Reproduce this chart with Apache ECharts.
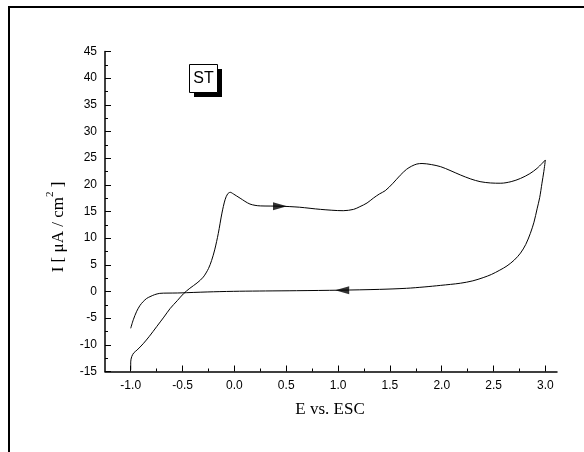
<!DOCTYPE html>
<html>
<head>
<meta charset="utf-8">
<script src="https://cdn.jsdelivr.net/npm/echarts@6/dist/echarts.min.js"></script>
<style>
html,body{margin:0;padding:0;background:#fff;}
#chart{width:584px;height:452px;}
</style>
</head>
<body>
<div id="chart"></div>
<script>
// Forward (anodic) scan
const forwardE = [-1.0,-1.0,-0.99,-0.97,-0.94,-0.88,-0.82,-0.75,-0.68,-0.62,-0.55,-0.49,-0.43,-0.36,-0.30,-0.25,-0.22,-0.19,-0.155,-0.12,-0.09,-0.065,-0.04,-0.01,0.055,0.15,0.25,0.44,0.63,0.83,1.05,1.15,1.21,1.28,1.34,1.40,1.455,1.53,1.60,1.66,1.71,1.76,1.81,1.90,1.99,2.08,2.18,2.28,2.37,2.47,2.57,2.67,2.76,2.85,2.92,3.0];
const forwardI = [-14.7,-13.2,-12.2,-11.5,-11.0,-9.8,-8.4,-6.6,-4.8,-3.2,-1.7,-0.4,0.6,1.6,2.7,4.3,5.8,7.8,10.9,14.7,17.2,18.3,18.6,18.3,17.5,16.4,16.05,16.0,15.8,15.4,15.15,15.4,15.9,16.6,17.5,18.3,18.9,20.3,21.8,22.9,23.5,23.9,24.0,23.8,23.4,22.7,21.85,21.1,20.6,20.35,20.3,20.6,21.2,22.1,23.1,24.66];
// Reverse (cathodic) scan
const reverseE = [3.0,2.985,2.967,2.945,2.92,2.89,2.855,2.81,2.76,2.70,2.63,2.56,2.48,2.40,2.30,2.18,1.99,1.83,1.66,1.40,1.02,0.60,0.30,0.05,-0.20,-0.46,-0.55,-0.65,-0.72,-0.77,-0.814,-0.846,-0.88,-0.91,-0.942,-0.975,-1.0];
const reverseI = [24.66,22.5,20.3,17.6,15.5,13.0,10.9,8.8,7.2,5.9,4.8,4.0,3.2,2.6,2.0,1.55,1.15,0.85,0.6,0.4,0.25,0.15,0.1,0.05,-0.05,-0.22,-0.28,-0.3,-0.35,-0.6,-0.97,-1.3,-1.9,-2.6,-3.7,-5.3,-6.9];
// Direction arrows
const arrowForward = [0.44, 16.0];
const arrowReverse = [1.04, 0.25];
// Tick values
const xMajorTicks = [-1.0,-0.5,0.0,0.5,1.0,1.5,2.0,2.5,3.0];
const xMinorTicks = [-0.75,-0.25,0.25,0.75,1.25,1.75,2.25,2.75];

const zip = (a,b) => a.map((v,i) => [v, b[i]]);

const chart = echarts.init(document.getElementById('chart'), null, {renderer:'canvas'});
const axisColor = '#000';
const labelFont = {fontFamily:'"Liberation Sans", Arial, sans-serif', fontSize:12, color:'#000'};

chart.setOption({
  animation:false,
  backgroundColor:'#fff',
  grid:{left:105, right:27, top:51.5, bottom:80.5, containLabel:false, outerBoundsMode:'none'},
  xAxis:[{
    type:'value', min:-1.248, max:3.112, position:'bottom',
    axisLine:{show:true, onZero:false, lineStyle:{color:axisColor, width:1.5}},
    axisTick:{show:true, inside:true, length:6, customValues:xMajorTicks, lineStyle:{color:axisColor, width:1}},
    axisLabel:{show:true, customValues:xMajorTicks, margin:8, formatter:v=>Number(v).toFixed(1), ...labelFont},
    splitLine:{show:false}
  },{
    type:'value', min:-1.248, max:3.112, position:'bottom',
    axisLine:{show:false, onZero:false},
    axisTick:{show:true, inside:true, length:3, customValues:xMinorTicks, lineStyle:{color:axisColor, width:1}},
    axisLabel:{show:false},
    splitLine:{show:false}
  }],
  yAxis:{
    type:'value', min:-15, max:45, interval:5,
    axisLine:{show:true, onZero:false, lineStyle:{color:axisColor, width:1.5}},
    axisTick:{show:true, inside:true, length:6, lineStyle:{color:axisColor, width:1}},
    minorTick:{show:true, splitNumber:2, length:3, lineStyle:{color:axisColor, width:1}},
    axisLabel:{margin:8, ...labelFont},
    splitLine:{show:false}, minorSplitLine:{show:false}
  },
  series:[{
    name:'forward', type:'line', xAxisIndex:0, data:zip(forwardE, forwardI),
    showSymbol:false, smooth:0.3, lineStyle:{color:'#000', width:1}
  },{
    name:'reverse', type:'line', xAxisIndex:0, data:zip(reverseE, reverseI),
    showSymbol:false, smooth:0.3, lineStyle:{color:'#000', width:1}
  },{
    name:'arrowF', type:'scatter', xAxisIndex:0, data:[arrowForward],
    symbol:'triangle', symbolSize:[8,14], symbolRotate:-90, itemStyle:{color:'#000'}
  },{
    name:'arrowR', type:'scatter', xAxisIndex:0, data:[arrowReverse],
    symbol:'triangle', symbolSize:[8,14], symbolRotate:90, itemStyle:{color:'#000'}
  }],
  graphic:[
    {type:'rect', shape:{x:9, y:7, width:700, height:600}, style:{fill:'none', stroke:'#000', lineWidth:2}, silent:true},
    {type:'rect', shape:{x:194, y:69, width:28, height:28}, style:{fill:'#000'}, silent:true},
    {type:'rect', shape:{x:189.5, y:64.5, width:28, height:28}, style:{fill:'#fff', stroke:'#000', lineWidth:1}, silent:true},
    {type:'text', x:203.5, y:78.5, style:{text:'ST', fontFamily:'"Liberation Sans", Arial, sans-serif', fontSize:16, fill:'#000', align:'center', verticalAlign:'middle'}, silent:true},
    {type:'text', x:330, y:409.5, style:{text:'E vs. ESC', fontFamily:'"Liberation Serif", "Times New Roman", serif', fontSize:17, fill:'#000', align:'center', verticalAlign:'middle'}, silent:true},
    {type:'text', x:56, y:227, rotation:Math.PI/2,
      style:{text:'{a|I [ μA / cm}{s|2}{a| ]}', align:'center', verticalAlign:'middle',
        rich:{
          a:{fontFamily:'"Liberation Serif", "Times New Roman", serif', fontSize:17, fill:'#000', lineHeight:22, verticalAlign:'bottom'},
          s:{fontFamily:'"Liberation Serif", "Times New Roman", serif', fontSize:11, fill:'#000', lineHeight:22, verticalAlign:'top'}
        }}, silent:true}
  ]
});
</script>
</body>
</html>
